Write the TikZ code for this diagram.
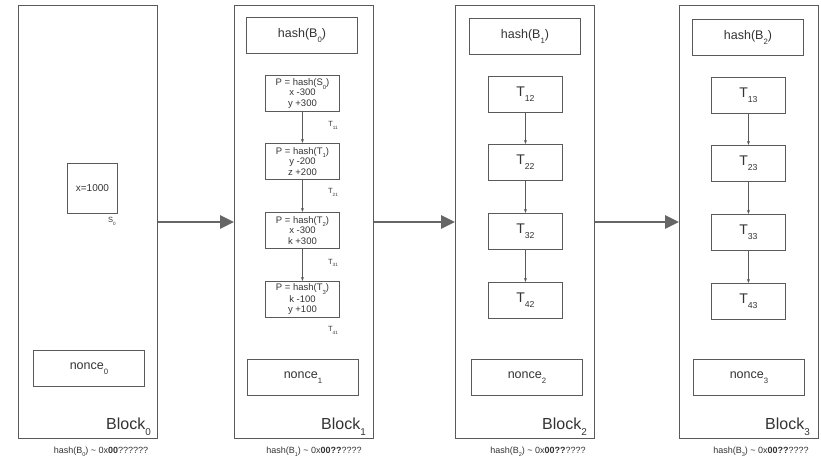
\documentclass[tikz,border=0pt]{standalone}
\usepackage{fontspec}
\setmainfont{Liberation Sans}
\usetikzlibrary{arrows.meta}
\definecolor{edge}{HTML}{5A5A5A}
\definecolor{ink}{HTML}{333333}
\definecolor{link}{HTML}{666666}
% index set low and small below the baseline
\newcommand\lowidx[1]{\raisebox{-0.38em}{\scalebox{0.62}{#1}}}
\tikzset{
  blockbox/.style={draw=edge, line width=1pt, minimum width=139pt, minimum height=433pt,
    inner sep=0pt, anchor=north west},
  fieldbox/.style={draw=edge, line width=0.9pt, minimum width=111pt, minimum height=36pt,
    inner sep=0pt, anchor=north west, text=ink, font=\fontsize{12.5}{14}\selectfont},
  txbox/.style={draw=edge, line width=0.9pt, minimum width=74pt, minimum height=36pt,
    inner sep=0pt, anchor=north west, text=ink, align=center},
  txbig/.style={txbox, font=\fontsize{14}{16}\selectfont},
  txsmall/.style={txbox, font=\fontsize{9.5}{10.5}\selectfont},
  statebox/.style={draw=edge, line width=0.9pt, minimum width=50pt, minimum height=50pt,
    inner sep=0pt, anchor=north west, text=ink, font=\fontsize{10}{12}\selectfont},
  blocklabel/.style={anchor=base east, inner sep=0pt, text=ink, font=\fontsize{16}{18}\selectfont},
  tinylabel/.style={inner sep=0pt, text=ink, font=\fontsize{7.5}{8}\selectfont},
  hashlabel/.style={inner sep=0pt, text=ink, font=\fontsize{9}{10}\selectfont},
  chain/.style={draw=link, line width=2.6pt, -{Triangle[length=14pt,width=13pt]}},
  flow/.style={draw=edge, line width=0.7pt, -{Stealth[length=4pt,width=3pt]}},
}
\begin{document}
\begin{tikzpicture}[x=1pt,y=-1pt]
\useasboundingbox (0,0) rectangle (821,458);

% ---- Block 0 (genesis state) ----
\node[blockbox] (b0) at (18,5) {};
\node[statebox] (s0) at (67,163) {x=1000};
\node[tinylabel] (s0lab) at (112,221) {S\lowidx{0}};
\node[fieldbox] (n0) at (33,350) {nonce\lowidx{0}};
\node[blocklabel] (l0) at (151,429) {Block\lowidx{0}};
\node[hashlabel] (h0) at (101,452) {hash(B\lowidx{0}) \textasciitilde{} 0x\textbf{00}??????};

% ---- Block 1 (detailed transactions) ----
\node[blockbox] (b1) at (234,5) {};
\node[fieldbox] (p1) at (246,17) {hash(B\lowidx{0})};
\node[txsmall] (t11) at (265,75) {P = hash(S\lowidx{0})\\x -300\\y +300};
\node[txsmall] (t21) at (265,143) {P = hash(T\lowidx{1})\\y -200\\z +200};
\node[txsmall] (t31) at (265,212) {P = hash(T\lowidx{2})\\x -300\\k +300};
\node[txsmall] (t41) at (265,281) {P = hash(T\lowidx{3})\\k -100\\y +100};
\node[tinylabel] (lt11) at (333,125) {T\lowidx{11}};
\node[tinylabel] (lt21) at (333,192) {T\lowidx{21}};
\node[tinylabel] (lt31) at (333,263) {T\lowidx{31}};
\node[tinylabel] (lt41) at (333,330) {T\lowidx{41}};
\node[fieldbox] (n1) at (247,359) {nonce\lowidx{1}};
\node[blocklabel] (l1) at (366,429) {Block\lowidx{1}};
\node[hashlabel] (h1) at (314,452) {hash(B\lowidx{1}) \textasciitilde{} 0x\textbf{00??}????};
\draw[flow] (t11) -- (t21);
\draw[flow] (t21) -- (t31);
\draw[flow] (t31) -- (t41);

% ---- Block 2 ----
\node[blockbox] (b2) at (455,5) {};
\node[fieldbox] (p2) at (469,18) {hash(B\lowidx{1})};
\node[txbig] (t12) at (488,76) {T\lowidx{12}};
\node[txbig] (t22) at (488,144) {T\lowidx{22}};
\node[txbig] (t32) at (488,213) {T\lowidx{32}};
\node[txbig] (t42) at (488,282) {T\lowidx{42}};
\node[fieldbox] (n2) at (471,359) {nonce\lowidx{2}};
\node[blocklabel] (l2) at (587,429) {Block\lowidx{2}};
\node[hashlabel] (h2) at (538,452) {hash(B\lowidx{2}) \textasciitilde{} 0x\textbf{00??}????};
\draw[flow] (t12) -- (t22);
\draw[flow] (t22) -- (t32);
\draw[flow] (t32) -- (t42);

% ---- Block 3 ----
\node[blockbox] (b3) at (679,5) {};
\node[fieldbox] (p3) at (692,19) {hash(B\lowidx{2})};
\node[txbig] (t13) at (711,77) {T\lowidx{13}};
\node[txbig] (t23) at (711,145) {T\lowidx{23}};
\node[txbig] (t33) at (711,214) {T\lowidx{33}};
\node[txbig] (t43) at (711,283) {T\lowidx{43}};
\node[fieldbox] (n3) at (693,359) {nonce\lowidx{3}};
\node[blocklabel] (l3) at (810,429) {Block\lowidx{3}};
\node[hashlabel] (h3) at (761,452) {hash(B\lowidx{3}) \textasciitilde{} 0x\textbf{00??}????};
\draw[flow] (t13) -- (t23);
\draw[flow] (t23) -- (t33);
\draw[flow] (t33) -- (t43);

% ---- chain links between blocks ----
\draw[chain] (b0) -- (b1);
\draw[chain] (b1) -- (b2);
\draw[chain] (b2) -- (b3);
\end{tikzpicture}
\end{document}
